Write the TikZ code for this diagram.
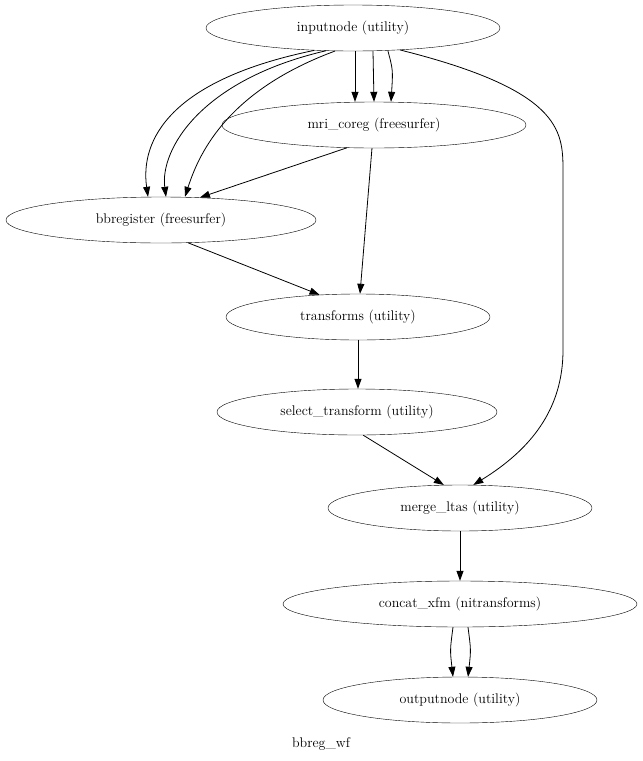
\documentclass[tikz,border=0pt]{standalone}
\usetikzlibrary{shapes.geometric,arrows.meta}
\begin{document}
\begin{tikzpicture}[x=1pt,y=-1pt,
  nd/.style={draw,ellipse,inner sep=0pt,minimum height=46pt,font=\fontsize{14}{16}\selectfont},
  ed/.style={-{Triangle[length=10pt,width=7pt]},line width=0.8pt}]
\useasboundingbox (0,0) rectangle (643,761);
\node[nd,minimum width=294pt] (in) at (353,28) {inputnode (utility)};
\node[nd,minimum width=304pt] (mri) at (374,125) {mri\_coreg (freesurfer)};
\node[nd,minimum width=310pt] (bb) at (161,220) {bbregister (freesurfer)};
\node[nd,minimum width=264pt] (tr) at (358,317) {transforms (utility)};
\node[nd,minimum width=280pt] (sel) at (357,412) {select\_transform (utility)};
\node[nd,minimum width=264pt] (mer) at (460,508) {merge\_ltas (utility)};
\node[nd,minimum width=354pt] (cat) at (460,604) {concat\_xfm (nitransforms)};
\node[nd,minimum width=274pt] (out) at (460,700) {outputnode (utility)};
\node[font=\fontsize{14}{16}\selectfont] (lbl) at (321,744) {bbreg\_wf};
\draw[ed] ([xshift=2pt]in.south) -- ([xshift=-19pt]mri.north);
\draw[ed] ([xshift=20pt]in.south) -- ([xshift=0pt]mri.north);
\draw[ed] ([xshift=35pt]in.south) .. controls (393,70) .. ([xshift=17pt]mri.north);
\draw[ed] (in.-150) .. controls (170,80) and (140,140) .. ([xshift=-13pt]bb.north);
\draw[ed] (in.-140) .. controls (200,80) and (160,150) .. ([xshift=5pt]bb.north);
\draw[ed] (in.-128) .. controls (230,90) and (200,150) .. ([xshift=24pt]bb.north);
\draw[ed] (mri.-140) -- (bb.30);
\draw[ed] (mri.-95) -- ([xshift=2pt]tr.north);
\draw[ed] (bb.-40) -- (tr.150);
\draw[ed] (in.-25) .. controls (560,90) and (563,130) .. (563,170) -- (563,350) .. controls (563,410) and (530,450) .. (mer.60);
\draw[ed] (tr.south) -- ([xshift=1pt]sel.north);
\draw[ed] (sel.-75) -- (mer.125);
\draw[ed] (mer.south) -- (cat.north);
\draw[ed] ([xshift=-7pt]cat.south) .. controls (450,650) .. ([xshift=-7pt]out.north);
\draw[ed] ([xshift=8pt]cat.south) .. controls (471,650) .. ([xshift=8pt]out.north);
\end{tikzpicture}
\end{document}
